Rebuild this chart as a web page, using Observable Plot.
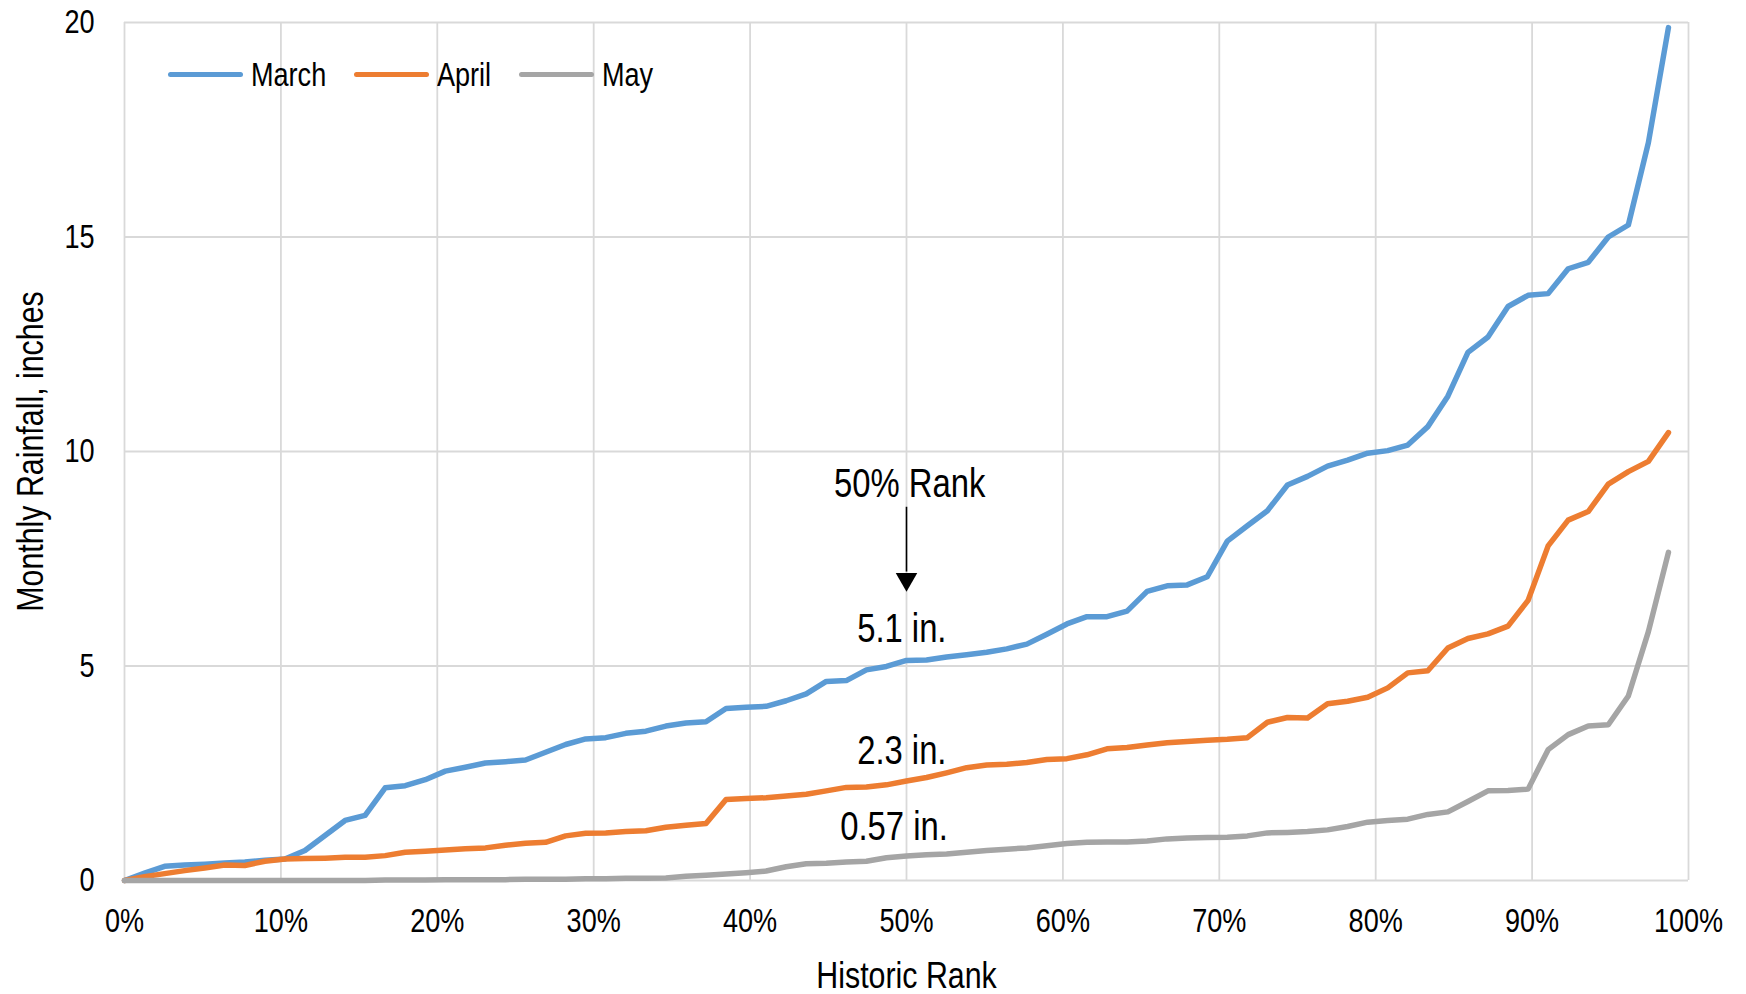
<!DOCTYPE html>
<html><head><meta charset="utf-8">
<script src="https://cdn.jsdelivr.net/npm/d3@7"></script>
<script src="https://cdn.jsdelivr.net/npm/@observablehq/plot@0.6"></script>
<style>
body{margin:0;background:#fff;}
#wrap{position:relative;width:1746px;height:994px;font-family:'Liberation Sans','Arial',sans-serif;color:#000;}
#legend{position:absolute;left:168px;top:57px;display:flex;align-items:center;height:34px;}
.item{display:flex;align-items:center;}
.swatch{width:75px;height:5px;border-radius:3px;margin-right:8px;}
.item span{display:inline-block;font-size:33px;line-height:1;color:#000;transform:scaleX(0.82);transform-origin:left center;white-space:nowrap;}
</style></head><body><div id="wrap"><div id="legend"></div></div>
<script>
const seriesNames = ["March", "April", "May"];
const seriesColors = ["#5B9BD5", "#ED7D31", "#A5A5A5"];

const march = [0, 0.17, 0.33, 0.36, 0.38, 0.41, 0.43, 0.47, 0.50, 0.70,
  1.05, 1.40, 1.52, 2.16, 2.21, 2.35, 2.55, 2.64, 2.74, 2.77,
  2.81, 2.99, 3.17, 3.30, 3.33, 3.43, 3.48, 3.60, 3.67, 3.70,
  4.01, 4.04, 4.06, 4.19, 4.35, 4.64, 4.66, 4.91, 4.99, 5.13,
  5.14, 5.21, 5.26, 5.32, 5.40, 5.51, 5.74, 5.98, 6.15, 6.15,
  6.28, 6.74, 6.87, 6.89, 7.08, 7.91, 8.27, 8.62, 9.22, 9.42,
  9.66, 9.80, 9.96, 10.02, 10.15, 10.58, 11.29, 12.31, 12.67, 13.38,
  13.64, 13.68, 14.26, 14.41, 15.00, 15.28, 17.20, 19.88];

const april = [0, 0.09, 0.16, 0.23, 0.29, 0.36, 0.35, 0.45, 0.50, 0.51,
  0.52, 0.54, 0.54, 0.58, 0.66, 0.68, 0.71, 0.74, 0.76, 0.82,
  0.87, 0.89, 1.04, 1.10, 1.11, 1.14, 1.16, 1.24, 1.29, 1.33,
  1.89, 1.91, 1.93, 1.97, 2.01, 2.09, 2.17, 2.18, 2.23, 2.32,
  2.40, 2.51, 2.63, 2.69, 2.71, 2.75, 2.82, 2.84, 2.93, 3.07,
  3.10, 3.16, 3.21, 3.24, 3.27, 3.29, 3.33, 3.69, 3.80, 3.79,
  4.12, 4.18, 4.27, 4.49, 4.84, 4.89, 5.42, 5.64, 5.75, 5.93,
  6.53, 7.80, 8.40, 8.60, 9.24, 9.53, 9.77, 10.44];

const may = [0, 0, 0, 0, 0, 0, 0, 0, 0, 0,
  0, 0, 0, 0.01, 0.01, 0.01, 0.02, 0.02, 0.02, 0.02,
  0.03, 0.03, 0.03, 0.04, 0.04, 0.05, 0.05, 0.06, 0.10, 0.12,
  0.15, 0.18, 0.22, 0.32, 0.39, 0.40, 0.43, 0.45, 0.53, 0.57,
  0.60, 0.62, 0.66, 0.70, 0.73, 0.76, 0.81, 0.86, 0.89, 0.90,
  0.90, 0.92, 0.97, 0.99, 1.00, 1.01, 1.04, 1.11, 1.12, 1.14,
  1.18, 1.26, 1.36, 1.40, 1.43, 1.54, 1.60, 1.84, 2.09, 2.10,
  2.13, 3.05, 3.40, 3.60, 3.63, 4.30, 5.80, 7.65];

const xTicks = [0, 0.1, 0.2, 0.3, 0.4, 0.5, 0.6, 0.7, 0.8, 0.9, 1.0];
const yTicks = [0, 5, 10, 15, 20];

const labelTexts = ["50% Rank", "5.1 in.", "2.3 in.", "0.57 in."];
const labelRanks = [0.502, 0.497, 0.497, 0.492];
const labelValues = [8.93, 5.55, 2.72, 0.95];

const arrowRank = [0.5];
const arrowTop = [8.70];
const arrowBase = [7.19];
const arrowHead = [7.02];

const xTitle = "Historic Rank";
const yTitle = "Monthly Rainfall, inches";

const FONT = "'Liberation Sans',Arial,sans-serif";
const NARROW = 0.82;

const seriesValues = [march, april, may];
const rows = seriesNames.flatMap((name, s) =>
  seriesValues[s].map((v, i) => ({series: name, rank: i / seriesValues[s].length, value: v})));
const labels = labelTexts.map((t, i) => ({text: t, rank: labelRanks[i], value: labelValues[i]}));
const arrows = arrowRank.map((r, i) => ({rank: r, top: arrowTop[i], base: arrowBase[i], head: arrowHead[i]}));

const chart = Plot.plot({
  width: 1746,
  height: 994,
  marginLeft: 124,
  marginRight: 58,
  marginTop: 22,
  marginBottom: 114,
  style: {fontFamily: FONT, color: "#000", background: "#fff", overflow: "visible"},
  x: {domain: [0, 1]},
  y: {domain: [0, 20]},
  color: {domain: seriesNames, range: seriesColors},
  marks: [
    Plot.gridX(xTicks, {stroke: "#d9d9d9", strokeOpacity: 1, strokeWidth: 1.8}),
    Plot.gridY(yTicks, {stroke: "#d9d9d9", strokeOpacity: 1, strokeWidth: 1.8}),
    Plot.line(rows, {x: "rank", y: "value", z: "series", stroke: "series",
      strokeWidth: 5.5, strokeLinejoin: "round", strokeLinecap: "round"}),
    Plot.ruleX(arrows, {x: "rank", y1: "top", y2: "base", stroke: "#000", strokeWidth: 1.6}),
    Plot.dot(arrows, {x: "rank", y: "head", symbol: "triangle", r: 8, rotate: 180, fill: "#000", stroke: null}),
    Plot.text(labels, {x: "rank", y: "value", text: "text", fontSize: 40, lineAnchor: "bottom", textAnchor: "middle", fill: "#000"}),
    Plot.axisX({ticks: xTicks, tickFormat: d3.format(".0%"), tickSize: 0, tickPadding: 28, fontSize: 33, label: null}),
    Plot.axisY({ticks: yTicks, tickSize: 0, tickPadding: 30, fontSize: 33, label: null}),
    Plot.text([xTitle], {frameAnchor: "bottom", dy: 107, lineAnchor: "bottom", textAnchor: "middle", fontSize: 37, fill: "#000"}),
    Plot.text([yTitle], {frameAnchor: "left", rotate: -90, dx: -93, textAnchor: "middle", lineAnchor: "middle", fontSize: 37, fill: "#000"})
  ]
});

document.getElementById("wrap").appendChild(chart);

// Condense all SVG text horizontally (Arial Narrow look) without touching positions
chart.querySelectorAll("text").forEach((t) => {
  const w = t.getComputedTextLength();
  if (w > 0) {
    t.setAttribute("textLength", (w * NARROW).toFixed(2));
    t.setAttribute("lengthAdjust", "spacingAndGlyphs");
  }
});

const legend = document.getElementById("legend");
const spans = [];
seriesNames.forEach((name, i) => {
  const item = document.createElement("div");
  item.className = "item";
  const sw = document.createElement("div");
  sw.className = "swatch";
  sw.style.background = seriesColors[i];
  const label = document.createElement("span");
  label.textContent = name;
  item.appendChild(sw);
  item.appendChild(label);
  legend.appendChild(item);
  spans.push(label);
});
spans.forEach((s) => {
  const w = s.offsetWidth;
  s.style.marginRight = (28 - (1 - NARROW) * w) + "px";
});
</script></body></html>
